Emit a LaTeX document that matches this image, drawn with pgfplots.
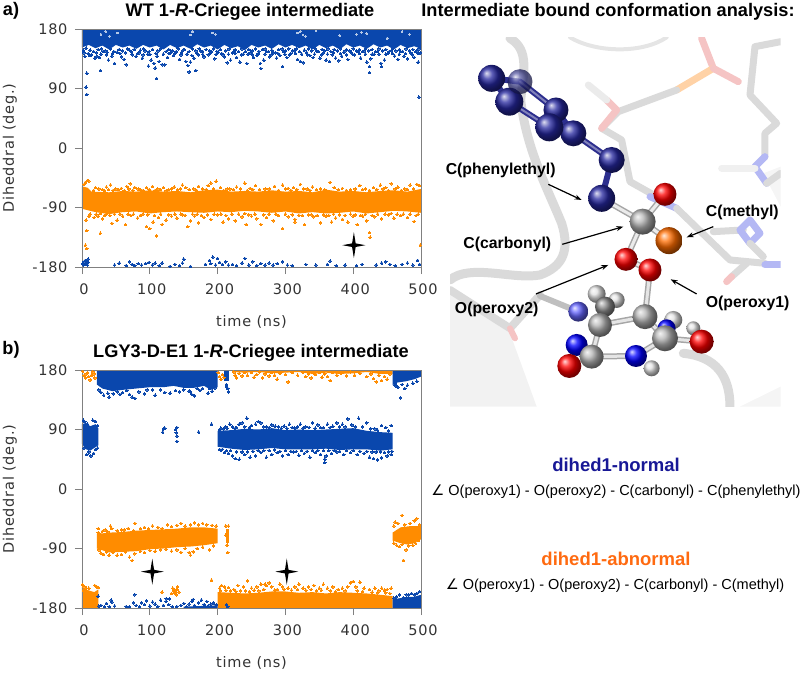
\documentclass[border=0pt]{standalone}
\usepackage{fontspec}
\usepackage{pgfplots}
\usetikzlibrary{arrows.meta}
\pgfplotsset{compat=1.18}
\setmainfont{Liberation Sans}
\newfontfamily\tickfont[LetterSpace=5]{DejaVu Sans}
\newfontfamily\symfont{DejaVu Sans}
\definecolor{dblue}{HTML}{0A47AD}
\definecolor{dorange}{HTML}{FF8C00}
\definecolor{navy}{HTML}{2C2E8E}
\definecolor{axgray}{HTML}{808080}
\definecolor{txt}{HTML}{333333}
\definecolor{pale}{HTML}{DADADA}
\definecolor{palered}{HTML}{F5C4C4}
\definecolor{paleblue}{HTML}{B4B8F4}
\pgfdeclareplotmark{fourstar}{%
  \pgfpathmoveto{\pgfqpoint{0pt}{13pt}}
  \pgfpathlineto{\pgfqpoint{1.8pt}{1.8pt}}\pgfpathlineto{\pgfqpoint{11.5pt}{0pt}}
  \pgfpathlineto{\pgfqpoint{1.8pt}{-1.8pt}}\pgfpathlineto{\pgfqpoint{0pt}{-13pt}}
  \pgfpathlineto{\pgfqpoint{-1.8pt}{-1.8pt}}\pgfpathlineto{\pgfqpoint{-11.5pt}{0pt}}
  \pgfpathlineto{\pgfqpoint{-1.8pt}{1.8pt}}\pgfpathclose\pgfusepathqfill}
\newcommand{\tickfs}{\tickfont\fontsize{14.5}{14.5}\selectfont}
\pgfplotsset{
  panel/.style={
    scale only axis, width=339pt, height=238pt,
    xmin=0, xmax=500, ymin=-180, ymax=180,
    xtick={0,100,...,500}, ytick={-180,-90,0,90,180},
    tick pos=left, tick align=outside, major tick length=7pt,
    axis line style={axgray,line width=0.9pt}, tick style={axgray,line width=0.9pt},
    clip=false, axis on top,
    /pgf/number format/assume math mode=true,
    tick label style={font=\tickfs,text=txt},
    yticklabel style={xshift=-4pt}, xticklabel style={yshift=-6pt,xshift=2pt},
    xlabel={time (ns)}, ylabel={Diheddral (deg.)},
    every axis x label/.style={at={(axis description cs:0.5,-0.232)},anchor=center,font=\tickfs,text=txt},
    every axis y label/.style={at={(axis description cs:-0.213,0.5)},rotate=90,anchor=center,font=\tickfs,text=txt},
  },
  core/.style={fill=#1,draw=none,forget plot},
  dots/.style={only marks,color=#1,mark=*,mark size=1.3pt,mark options={line width=0pt},forget plot},
  stars/.style={only marks,mark=fourstar,black,forget plot},
}
\newcommand{\stick}[3][pale]{\draw[line width=#2,line cap=round,line join=round,#1] #3;}
\newcommand{\ball}[4]{\shade[ball color=#4] (#1,#2) circle (#3);}
\begin{document}
\begin{tikzpicture}
\path[use as bounding box] (0,0) rectangle (800pt,673pt);

% molecule picture, coordinates in 1/3 px of the right hand side
\begin{scope}[shift={(430pt,673pt)},x=0.3333pt,y=-0.3333pt]
\begin{scope}
\clip (60,112) rectangle (1052,1220);
\fill[black!5] (60,880) -- (240,1000) -- (320,1220) -- (60,1220) -- cycle;
\fill[black!4] (930,1220) -- (1052,1160) -- (1052,1220) -- cycle;
\fill[black!4] (1000,520) -- (1052,500) -- (1052,620) -- cycle;
\stick[black!10]{4pt}{(420,112) .. controls (500,160) and (640,160) .. (710,112)}
\stick[pale]{9pt}{(240,115) .. controls (300,150) and (280,220) .. (272,300) .. controls (290,450) and (350,560) .. (395,670) .. controls (420,750) and (400,800) .. (330,825) .. controls (250,840) and (120,790) .. (60,840)}
\stick[pale]{8pt}{(60,870) -- (240,985) -- (330,885)}
\stick[palered]{6pt}{(240,985) -- (255,1015)}
\stick[pale]{9pt}{(760,1060) .. controls (860,1070) and (900,1130) .. (900,1220)}
\stick[pale]{7pt}{(1052,125) -- (975,140) -- (960,285) -- (1040,370) -- (1005,400) -- (1005,470)}
\stick[paleblue]{7pt}{(1005,470) -- (975,500) -- (1010,550)}
\stick[black!6]{7pt}{(975,505) -- (875,505)}
\stick[pale]{7pt}{(1010,550) -- (1052,520)}
\stick[palered]{7pt}{(815,115) -- (850,205)}
\stick[orange!35]{7pt}{(850,205) -- (740,270)}
\stick[palered]{7pt}{(850,205) -- (925,245)}
\stick[pale]{7pt}{(740,270) -- (565,335) -- (515,385) -- (575,420) -- (600,545) -- (680,590)}
\stick[palered]{7pt}{(530,300) -- (560,330) -- (515,385)}
\stick[black!8]{7pt}{(475,255) -- (530,300)}
\stick[paleblue]{7pt}{(660,590) -- (740,625)}
\stick[pale]{7pt}{(740,625) -- (900,780) -- (1005,790)}
\stick[pale]{7pt}{(850,695) -- (940,690)}
\stick[paleblue]{7pt}{(930,690) -- (960,660) -- (990,700) -- (960,730) -- cycle}
\stick[pale]{7pt}{(960,730) -- (1000,770)}
\stick[paleblue]{7pt}{(1005,795) -- (1052,795)}
\stick[pale]{7pt}{(950,790) -- (905,830)}
\stick[palered]{7pt}{(905,830) -- (890,845)}
\end{scope}
% back atoms of the lower ring
\ball{500}{882}{9pt}{black!12}\ball{560}{900}{8pt}{black!12}
\ball{730}{960}{9pt}{black!12}\ball{790}{985}{7pt}{black!12}\ball{525}{920}{10pt}{black!45}
% lower ring sticks
\stick[black!35]{6pt}{(645,950) -- (510,975) -- (485,1070) (645,950) -- (705,1015) -- (815,1025) (485,1070) -- (618,1068) -- (705,1015) (660,810) -- (645,950)}
\stick[black!10]{3pt}{(645,950) -- (510,975) -- (485,1070) (645,950) -- (705,1015) -- (815,1025) (485,1070) -- (618,1068) -- (705,1015) (660,810) -- (645,950)}
\stick[black!25]{6pt}{(330,888) -- (445,935)}
\ball{445}{935}{10pt}{blue!60!white}
\ball{440}{1035}{11pt}{blue}\ball{618}{1068}{11pt}{blue}\ball{710}{985}{9pt}{blue}
\ball{645}{950}{12.5pt}{black!30}\ball{510}{975}{12pt}{black!30}\ball{705}{1015}{13pt}{black!30}\ball{485}{1070}{12pt}{black!30}
\ball{418}{1098}{12pt}{red}\ball{815}{1025}{12pt}{red}\ball{665}{1105}{8pt}{black!12}
% centre of the intermediate
\stick[black!35]{6pt}{(638,665) -- (515,595) (638,665) -- (705,583) (638,665) -- (717,722) (638,665) -- (588,778) -- (660,810)}
\stick[black!8]{3pt}{(638,665) -- (515,595) (638,665) -- (705,583) (638,665) -- (717,722) (638,665) -- (588,778) -- (660,810)}
\ball{705}{583}{11.5pt}{red}
\ball{638}{665}{13pt}{black!30}
\ball{717}{722}{13.5pt}{orange!85!red}
\ball{660}{810}{11.5pt}{red}\ball{588}{778}{11.5pt}{red}
% phenylethyl group
\stick[navy]{6pt}{(515,595) -- (545,480) -- (430,400) -- (358,382) -- (238,305) -- (185,235) -- (270,245) -- (378,330) -- (430,400)}
\stick[navy!60!white]{2pt}{(545,480) -- (430,400) (358,382) -- (238,305) (270,245) -- (378,330)}
\ball{185}{235}{13.5pt}{navy!85!blue}\ball{238}{305}{14pt}{navy!85!blue}\ball{378}{330}{12.5pt}{navy!85!blue}
\shade[ball color=navy,opacity=0.75] (270,245) circle (12.5pt);
\ball{430}{400}{13pt}{navy!85!blue}\ball{358}{382}{14pt}{navy!85!blue}\ball{545}{480}{13pt}{navy!85!blue}\ball{515}{595}{13.5pt}{navy!85!blue}
% arrows and atom names
\begin{scope}[-{Stealth[length=7pt,width=5pt]},line width=1.2pt,black]
\draw (355,553) -- (455,600); \draw (850,680) -- (770,712); \draw (397,733) -- (580,680);
\draw (318,882) -- (535,795); \draw (800,882) -- (722,838);
\end{scope}
\begin{scope}[every node/.style={font=\bfseries\fontsize{15.8}{15.8}\selectfont,inner sep=0pt}]
\node at (212,512) {C(phenylethyl)}; \node at (937,637) {C(methyl)}; \node at (232,733) {C(carbonyl)};
\node at (200,928) {O(peroxy2)}; \node at (953,910) {O(peroxy1)};
\end{scope}
\end{scope}

% titles and the two captions, coordinates in px from the top left corner
\begin{scope}[shift={(0pt,673pt)},x=1pt,y=-1pt,every node/.style={inner sep=0pt}]
\node[font=\bfseries\fontsize{18.2}{18}\selectfont] at (11,11) {a)};
\node[font=\bfseries\fontsize{18.2}{18}\selectfont] at (11,350) {b)};
\node[font=\bfseries\fontsize{18.2}{18}\selectfont] at (250,12) {WT 1-\textit{R}-Criegee intermediate};
\node[font=\bfseries\fontsize{18.2}{18}\selectfont] at (251,353) {LGY3-D-E1 1-\textit{R}-Criegee intermediate};
\node[font=\bfseries\fontsize{18.2}{18}\selectfont] at (608,12) {Intermediate bound conformation analysis:};
\node[font=\bfseries\fontsize{18.5}{18}\selectfont,text={rgb,255:red,24;green,24;blue,150}] at (616,465) {dihed1-normal};
\node[font=\bfseries\fontsize{18.5}{18}\selectfont,text={rgb,255:red,255;green,106;blue,16}] at (616,559) {dihed1-abnormal};
\node[font=\fontsize{14.5}{15}\selectfont] at (616,492) {{\symfont ∠} O(peroxy1) - O(peroxy2) - C(carbonyl) - C(phenylethyl)};
\node[font=\fontsize{14.5}{15}\selectfont] at (615,586) {{\symfont ∠} O(peroxy1) - O(peroxy2) - C(carbonyl) - C(methyl)};
\end{scope}

% panel a
\begin{axis}[panel,at={(82pt,406pt)},anchor=south west]
\addplot[core=dblue] coordinates {(0,180)(500,180)(500,150)(490,154)(480,151)(470,156)(460,149)(450,155)(440,152)(430,157)(420,150)(410,155)(400,152)(390,157)(380,149)(370,155)(360,151)(350,156)(340,149)(330,155)(320,151)(310,156)(300,152)(290,157)(280,150)(270,155)(260,152)(250,156)(240,148)(230,154)(220,151)(210,156)(200,149)(190,155)(180,152)(170,157)(160,150)(150,155)(140,151)(130,156)(120,149)(110,155)(100,152)(90,156)(80,150)(70,155)(60,152)(50,156)(40,149)(30,155)(20,151)(10,156)(0,152)} -- cycle;
\addplot[dots=dblue] coordinates {(7,113)(6,92)(7,81)(27,117)(110,105)(98,124)(108,121)(158,115)(168,117)(264,120)(296,123)(424,114)(424,123)(442,123)(497,77)(496,130)(4,139)(9,143)(14,141)(19,136)(22,139)(26,137)(31,146)(36,141)(39,133)(44,139)(48,128)(52,145)(58,138)(62,134)(65,126)(70,148)(74,141)(80,139)(84,144)(89,136)(93,147)(97,142)(102,133)(106,128)(111,139)(114,131)(118,126)(122,126)(126,137)(131,144)(135,140)(139,146)(144,134)(149,148)(153,131)(156,125)(160,130)(165,136)(170,143)(175,147)(180,138)(186,141)(191,146)(196,135)(201,145)(206,143)(210,138)(214,129)(219,133)(224,146)(228,137)(233,130)(238,142)(243,128)(248,144)(253,137)(258,140)(263,128)(268,133)(272,146)(277,138)(282,144)(287,136)(292,140)(297,146)(302,137)(308,143)(313,147)(318,134)(322,131)(326,129)(331,145)(336,140)(341,137)(346,147)(351,136)(356,144)(360,133)(365,131)(369,141)(374,136)(379,132)(383,139)(388,147)(392,134)(397,144)(402,141)(407,146)(411,136)(416,147)(420,130)(426,135)(431,142)(436,146)(441,128)(446,133)(451,143)(456,147)(461,139)(466,134)(470,146)(475,139)(480,135)(485,144)(490,137)(494,147)(499,144)(2,148)(6,151)(12,148)(17,146)(24,149)(29,150)(34,147)(42,150)(47,146)(55,149)(60,147)(67,150)(72,146)(77,149)(86,148)(91,150)(99,146)(104,149)(112,147)(116,150)(124,146)(128,149)(133,147)(142,150)(147,145)(151,149)(158,146)(163,150)(168,147)(173,150)(178,146)(183,149)(188,147)(194,150)(199,146)(204,149)(212,147)(217,150)(222,144)(226,149)(231,146)(236,150)(241,146)(246,149)(251,147)(256,150)(261,146)(266,149)(270,150)(275,146)(280,148)(285,144)(290,149)(295,150)(300,147)(305,150)(311,147)(316,150)(321,146)(328,148)(334,150)(339,147)(344,150)(349,146)(354,149)(358,147)(363,150)(367,146)(372,149)(377,147)(381,150)(386,145)(390,149)(395,147)(400,150)(405,147)(409,149)(414,146)(418,150)(423,147)(428,149)(433,146)(438,150)(443,147)(448,149)(453,146)(458,150)(463,147)(468,149)(473,146)(478,150)(483,147)(488,149)(492,146)(497,150)(3,144)(11,140)(21,144)(28,142)(37,145)(45,143)(56,143)(64,144)(73,145)(82,143)(90,141)(100,142)(109,143)(120,142)(128,143)(137,143)(146,141)(155,142)(162,140)(172,141)(178,142)(189,143)(198,142)(208,141)(216,142)(226,143)(235,141)(245,142)(251,141)(260,143)(270,142)(279,141)(289,143)(299,142)(306,141)(315,143)(324,142)(333,141)(343,142)(353,141)(362,142)(371,144)(381,143)(390,141)(399,142)(409,143)(418,142)(428,142)(438,142)(448,142)(458,143)(468,142)(477,143)(487,141)(496,143)};
\addplot[only marks,mark=*,mark size=0.9pt,color=white!70!dblue,mark options={line width=0pt},forget plot] coordinates {(28,172)(35,176)(41,169)(52,174)(160,171)(163,176)(192,174)(197,172)(318,174)(322,176)(326,171)(330,169)(345,177)(380,170)(405,172)(412,175)(420,173)(450,166)(472,176)(483,172)};
\addplot[core=dorange] coordinates {(0,-58)(8,-60)(14,-66)(40,-67)(60,-65)(80,-66)(100,-64)(120,-66)(140,-65)(160,-67)(180,-64)(200,-63)(220,-66)(240,-65)(260,-66)(280,-64)(300,-66)(320,-65)(340,-67)(360,-63)(380,-66)(400,-65)(420,-67)(440,-65)(460,-64)(480,-66)(500,-62)(500,-98)(480,-96)(460,-95)(440,-97)(420,-99)(400,-96)(380,-98)(360,-99)(340,-97)(320,-99)(300,-96)(280,-98)(260,-96)(240,-95)(220,-97)(200,-96)(180,-98)(160,-97)(140,-96)(120,-97)(100,-99)(80,-96)(60,-97)(40,-100)(20,-97)(0,-92)} -- cycle;
\addplot[dots=dorange] coordinates {(5,-52)(8,-49)(10,-50)(3,-55)(20,-60)(30,-63)(36,-59)(42,-56)(50,-62)(58,-61)(66,-58)(71,-54)(78,-60)(86,-63)(95,-60)(104,-58)(112,-62)(120,-60)(128,-63)(136,-59)(148,-56)(153,-60)(165,-62)(172,-58)(186,-57)(190,-53)(198,-50)(204,-60)(218,-62)(228,-59)(240,-53)(248,-61)(256,-57)(270,-62)(284,-58)(296,-56)(304,-61)(312,-60)(322,-55)(332,-62)(340,-59)(352,-62)(366,-52)(372,-60)(384,-61)(396,-63)(410,-57)(418,-62)(430,-60)(440,-56)(448,-60)(456,-54)(466,-59)(476,-62)(484,-56)(494,-55)(498,-57)(6,-109)(7,-125)(27,-129)(5,-147)(7,-152)(10,-103)(18,-105)(24,-103)(30,-107)(36,-100)(44,-114)(52,-109)(60,-103)(64,-116)(72,-102)(82,-106)(90,-100)(95,-119)(100,-122)(105,-112)(110,-133)(113,-105)(118,-116)(124,-109)(132,-103)(140,-106)(148,-101)(156,-119)(160,-110)(166,-103)(172,-113)(180,-105)(190,-108)(200,-101)(208,-112)(216,-107)(226,-110)(236,-104)(242,-116)(250,-103)(258,-107)(264,-116)(272,-105)(282,-110)(290,-102)(296,-122)(304,-104)(314,-108)(320,-102)(314,-112)(328,-116)(334,-101)(342,-104)(352,-113)(360,-103)(368,-112)(374,-106)(384,-108)(392,-112)(400,-103)(406,-116)(414,-103)(420,-110)(424,-128)(425,-135)(432,-104)(442,-107)(452,-101)(460,-106)(470,-102)(480,-105)(490,-111)(496,-100)(499,-147)(17,-64)(25,-62)(33,-65)(39,-63)(46,-64)(54,-63)(62,-65)(69,-62)(75,-64)(83,-62)(90,-64)(99,-63)(108,-64)(116,-63)(124,-65)(132,-62)(141,-63)(145,-62)(158,-63)(169,-64)(178,-62)(183,-63)(194,-62)(209,-64)(214,-62)(223,-63)(234,-62)(244,-64)(252,-63)(262,-63)(276,-62)(290,-64)(300,-62)(308,-64)(317,-63)(327,-62)(336,-64)(346,-63)(358,-63)(378,-63)(390,-64)(403,-62)(414,-63)(424,-64)(435,-63)(444,-62)(452,-64)(462,-62)(471,-64)(480,-63)(489,-62)(12,-100)(21,-100)(27,-99)(33,-102)(41,-102)(48,-100)(56,-100)(68,-100)(76,-100)(86,-102)(97,-101)(107,-102)(116,-100)(128,-101)(137,-100)(146,-100)(152,-102)(163,-100)(170,-100)(176,-102)(185,-101)(195,-100)(205,-100)(212,-102)(221,-100)(231,-100)(240,-99)(246,-101)(255,-100)(268,-101)(276,-100)(286,-100)(300,-100)(310,-101)(325,-102)(338,-101)(347,-102)(356,-101)(364,-102)(371,-100)(380,-101)(388,-102)(396,-100)(403,-101)(411,-102)(418,-100)(428,-102)(436,-100)(447,-100)(456,-99)(465,-100)(474,-100)(484,-100)(493,-102)};
\addplot[dots=dblue] coordinates {(1,-175)(2,-177)(3,-172)(4,-176)(5,-170)(6,-175)(7,-171)(8,-177)(9,-173)(9,-168)(48,-177)(55,-174)(65,-178)(70,-172)(74,-176)(78,-178)(83,-175)(88,-177)(94,-175)(99,-173)(104,-177)(108,-174)(114,-178)(118,-174)(130,-179)(137,-176)(144,-178)(148,-174)(150,-168)(160,-179)(182,-176)(188,-170)(190,-175)(193,-165)(197,-177)(200,-167)(203,-173)(207,-176)(212,-172)(216,-177)(222,-176)(228,-178)(236,-174)(240,-167)(246,-177)(252,-172)(258,-178)(264,-175)(270,-177)(276,-174)(282,-177)(288,-175)(296,-172)(303,-177)(310,-178)(330,-176)(345,-177)(362,-176)(366,-171)(375,-178)(388,-177)(405,-178)(413,-176)(434,-177)(442,-174)(448,-172)(454,-176)(462,-178)(472,-176)(480,-174)(488,-177)(495,-170)(498,-176)};
\addplot[stars] coordinates {(401,-147)};
\end{axis}

% panel b
\begin{axis}[panel,at={(82pt,65pt)},anchor=south west]
\addplot[dots=dorange] coordinates {(1,178)(3,172)(5,168)(6,174)(8,176)(10,170)(12,165)(14,172)(16,177)(18,174)(19,168)(201,176)(203,170)(205,166)(207,173)(209,169)(224,177)(226,172)(228,168)(232,175)(236,171)(240,176)(244,172)(250,176)(254,169)(258,173)(262,177)(266,168)(270,174)(276,171)(280,176)(284,172)(288,166)(292,175)(300,173)(304,162)(310,176)(318,172)(326,176)(330,170)(334,174)(338,168)(344,173)(350,176)(354,169)(358,174)(362,170)(366,164)(370,176)(376,172)(382,175)(390,171)(396,177)(402,172)(410,175)(420,170)(426,174)(430,167)(434,162)(438,172)(442,164)(446,170)(450,166)(454,174)};
\addplot[core=dorange] coordinates {(222,180)(458,180)(458,174)(440,174)(420,177)(400,175)(380,174)(360,176)(340,174)(320,177)(300,176)(280,175)(260,177)(240,176)(222,177)} -- cycle;
\addplot[core=dblue] coordinates {(22,180)(200,180)(200,154)(190,150)(180,156)(165,153)(150,153)(135,156)(120,154)(100,154)(80,152)(60,150)(45,148)(30,152)(22,158)} -- cycle;
\addplot[core=dblue] coordinates {(210,180)(217,180)(217,163)(210,163)} -- cycle;
\addplot[core=dblue] coordinates {(458,180)(500,180)(500,170)(490,166)(478,163)(465,161)(458,157)} -- cycle;
\addplot[dots=dblue] coordinates {(25,150)(28,146)(32,142)(38,145)(40,139)(46,144)(52,147)(56,143)(60,146)(66,149)(70,143)(74,139)(78,137)(84,147)(92,144)(96,150)(104,150)(108,142)(116,150)(122,146)(130,145)(138,149)(144,147)(150,150)(158,148)(160,147)(162,143)(166,141)(170,152)(174,149)(178,152)(186,145)(188,152)(192,148)(196,153)(213,158)(215,152)(216,147)(213,155)(462,156)(466,154)(476,152)(470,138)(480,157)(488,160)(494,163)(462,159)(472,158)};
\addplot[core=dblue] coordinates {(0,98)(6,100)(12,95)(20,98)(24,92)(24,66)(18,62)(12,58)(6,60)(0,68)} -- cycle;
\addplot[core=dblue] coordinates {(200,88)(220,89)(240,91)(260,90)(280,92)(300,89)(320,90)(340,89)(360,90)(380,91)(400,92)(420,88)(440,86)(458,85)(458,60)(440,58)(420,60)(400,60)(380,59)(360,61)(340,60)(320,60)(300,60)(280,62)(260,60)(240,59)(220,61)(200,64)} -- cycle;
\addplot[dots=dblue] coordinates {(2,104)(4,102)(8,98)(16,104)(20,102)(23,96)(3,62)(7,52)(10,56)(13,50)(17,54)(20,60)(23,62)(120,91)(119,86)(122,92)(138,90)(140,93)(139,85)(140,80)(140,72)(172,86)(191,98)(205,92)(212,94)(218,98)(222,94)(226,92)(232,98)(236,100)(243,107)(250,96)(256,98)(260,102)(264,100)(272,94)(280,97)(290,94)(298,95)(306,98)(314,92)(322,98)(330,94)(340,100)(348,97)(356,93)(362,98)(370,95)(376,100)(384,98)(392,106)(398,97)(408,107)(414,94)(420,100)(432,91)(442,96)(448,93)(456,96)(205,58)(210,55)(216,54)(222,50)(226,46)(232,45)(240,52)(248,48)(256,50)(264,55)(272,48)(280,52)(288,55)(296,50)(304,52)(312,56)(320,51)(328,54)(336,48)(344,55)(352,52)(358,45)(360,50)(358,40)(368,54)(376,56)(386,52)(396,55)(406,52)(416,54)(424,48)(430,46)(436,44)(442,47)(450,50)(456,52)(203,90)(209,91)(214,92)(228,93)(240,94)(247,93)(268,94)(276,93)(285,95)(294,92)(302,92)(310,93)(318,94)(326,92)(335,93)(344,92)(352,93)(366,93)(380,94)(388,94)(403,94)(426,91)(436,89)(452,88)(203,60)(207,60)(213,58)(219,58)(228,56)(236,56)(244,56)(252,57)(260,58)(268,58)(276,58)(284,59)(292,57)(300,58)(308,57)(316,57)(324,58)(332,57)(340,58)(348,58)(356,58)(364,58)(372,58)(380,57)(390,58)(400,58)(410,57)(420,57)(428,56)(434,56)(440,56)(446,55)(452,56)(457,57)};
\addplot[core=dorange] coordinates {(22,-68)(40,-66)(60,-65)(80,-63)(100,-62)(120,-61)(140,-60)(160,-58)(180,-58)(200,-60)(200,-82)(180,-85)(160,-87)(140,-88)(120,-90)(100,-91)(80,-94)(60,-95)(40,-96)(22,-90)} -- cycle;
\addplot[core=dorange] coordinates {(212,-60)(217,-60)(217,-82)(212,-82)} -- cycle;
\addplot[core=dorange] coordinates {(458,-66)(470,-58)(485,-56)(500,-56)(500,-76)(490,-82)(480,-84)(470,-82)(458,-78)} -- cycle;
\addplot[dots=dorange] coordinates {(24,-60)(24,-66)(28,-70)(30,-64)(34,-62)(38,-65)(42,-56)(44,-60)(52,-63)(58,-62)(62,-62)(68,-60)(76,-63)(78,-52)(86,-60)(92,-58)(98,-60)(104,-56)(112,-58)(118,-60)(126,-54)(132,-57)(140,-55)(146,-52)(152,-56)(160,-54)(166,-51)(172,-54)(178,-52)(184,-54)(192,-55)(198,-56)(25,-92)(28,-97)(32,-99)(36,-95)(40,-100)(46,-96)(52,-100)(58,-99)(64,-95)(70,-103)(74,-108)(78,-98)(86,-94)(92,-96)(100,-93)(108,-94)(116,-92)(124,-91)(132,-94)(140,-92)(146,-96)(152,-90)(158,-96)(160,-100)(164,-95)(170,-90)(178,-88)(188,-92)(194,-86)(212,-56)(216,-56)(214,-85)(215,-96)(212,-70)(460,-56)(462,-50)(466,-52)(472,-40)(476,-54)(484,-52)(490,-48)(494,-45)(498,-54)(460,-82)(464,-85)(468,-87)(472,-84)(478,-92)(474,-108)(482,-86)(488,-85)(492,-82)(496,-78)};
\addplot[core=dorange] coordinates {(0,-180)(24,-180)(24,-152)(18,-156)(12,-154)(6,-152)(0,-148)} -- cycle;
\addplot[core=dorange] coordinates {(200,-180)(458,-180)(458,-162)(440,-160)(420,-158)(400,-157)(380,-156)(360,-158)(340,-156)(320,-157)(300,-155)(280,-155)(260,-157)(240,-158)(220,-157)(200,-156)} -- cycle;
\addplot[dots=dorange] coordinates {(1,-145)(3,-148)(2,-153)(6,-150)(10,-150)(19,-146)(22,-148)(24,-149)(191,-138)(203,-150)(206,-146)(210,-148)(216,-149)(224,-152)(230,-146)(238,-148)(244,-139)(250,-150)(258,-148)(264,-144)(272,-146)(276,-142)(280,-148)(270,-144)(288,-152)(292,-144)(296,-148)(304,-150)(314,-148)(320,-144)(326,-150)(334,-148)(342,-146)(350,-150)(356,-144)(362,-150)(370,-148)(378,-152)(384,-150)(392,-148)(396,-142)(400,-140)(404,-148)(410,-141)(416,-150)(424,-152)(432,-150)(438,-154)(442,-150)(446,-153)(450,-152)(456,-150)(132,-158)(134,-150)(136,-152)(138,-155)(140,-152)(139,-160)(141,-148)(143,-156)(135,-154)(137,-158)(118,-156)(204,-154)(212,-153)(219,-154)(227,-155)(234,-154)(241,-154)(247,-155)(254,-153)(261,-154)(268,-152)(284,-153)(298,-152)(309,-153)(318,-152)(330,-153)(338,-152)(346,-154)(353,-153)(366,-154)(374,-155)(388,-154)(406,-154)(414,-155)(428,-156)(436,-157)(448,-157)(454,-158)};
\addplot[core=dblue] coordinates {(458,-180)(500,-180)(500,-160)(490,-163)(480,-163)(470,-165)(458,-167)} -- cycle;
\addplot[dots=dblue] coordinates {(24,-162)(25,-177)(28,-176)(33,-178)(36,-173)(40,-178)(43,-168)(44,-171)(48,-177)(65,-178)(70,-178)(76,-172)(78,-160)(80,-176)(85,-178)(88,-172)(92,-175)(95,-169)(100,-177)(104,-171)(108,-174)(112,-178)(116,-168)(120,-176)(124,-170)(128,-175)(124,-166)(129,-166)(133,-178)(140,-178)(146,-176)(150,-173)(154,-178)(158,-174)(162,-170)(166,-176)(164,-167)(172,-172)(176,-168)(180,-175)(184,-170)(186,-177)(190,-174)(194,-172)(198,-175)(213,-175)(215,-178)(460,-165)(464,-163)(468,-160)(474,-164)(478,-160)(482,-160)(486,-158)(490,-160)(494,-158)(498,-155)};
\addplot[core=dblue] coordinates {(150,-180)(200,-180)(200,-176)(175,-177)(150,-178)} -- cycle;
\addplot[stars] coordinates {(103.7,-125)(302,-125)};
\end{axis}
\end{tikzpicture}
\end{document}
